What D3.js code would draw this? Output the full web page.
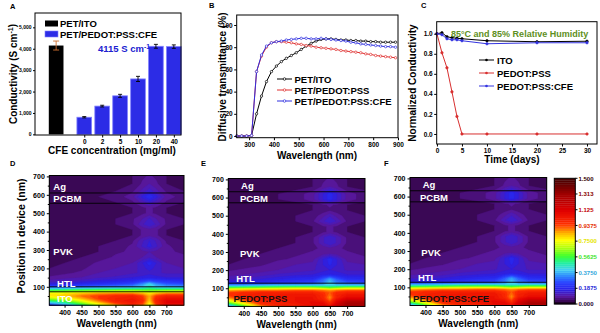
<!DOCTYPE html>
<html>
<head>
<meta charset="utf-8">
<script src="https://cdn.jsdelivr.net/npm/d3@7"></script>
<style>
  body { margin: 0; background: #fff; }
  svg { font-family: "Liberation Sans", Arial, sans-serif; font-weight: bold; }
</style>
</head>
<body>
<svg id="fig" width="600" height="333"></svg>
<script>
// ---- A: conductivity ----
const concLabels = ["0", "2", "5", "10", "20", "40"];
const itoCond = 4150, itoErr = 210;
const cfeCond = [800, 1320, 1800, 2590, 4115, 4100];
const cfeErr = [30, 40, 70, 120, 90, 80];
const condTicks = [0, 1000, 2000, 3000, 4000, 5000];

// ---- B: diffusive transmittance ----
const wavelengthsB = [250, 270, 290, 310, 330, 350, 370, 390, 410, 430, 450, 470, 490, 510, 530, 550,
  570, 590, 610, 630, 650, 670, 690, 710, 730, 750, 770, 790, 810, 830, 850, 870, 890];
const transITO = [0, 0, 0, 0.5, 20, 36, 49, 58, 63, 67, 70, 72.5, 75, 78, 81, 83.5,
  85.5, 87, 87.5, 87.5, 87, 86.5, 86.5, 86, 86, 85.5, 85.5, 85, 85, 84.5, 84.5, 84.5, 84.5];
const transPSS = [0, 0, 0, 0.5, 58, 72, 80, 84, 85, 85, 84.5, 84, 83, 82.5, 81.5, 81,
  80, 79.5, 79, 78.5, 78, 77, 76.5, 76, 75.5, 75, 74, 73.5, 72.5, 72, 71.5, 71, 70.5];
const transCFE = [0, 0, 0, 0.5, 58, 73, 81, 84, 85, 85.5, 86.5, 87, 87.5, 88, 88, 87.5,
  87.5, 88, 87.5, 87, 86.5, 86, 85.5, 84.5, 84, 83, 82.5, 82, 81.5, 81, 80.5, 80.5, 80];
const transTicks = [0, 20, 40, 60, 80, 100];
const wlTicksB = [300, 400, 500, 600, 700, 800, 900];

// ---- C: stability at 85 C / 85 % RH ----
const days = [0, 1, 2, 3, 4, 5, 10, 20, 30];
const normITO = [1.0, 1.01, 0.97, 0.96, 0.955, 0.95, 0.93, 0.92, 0.925];
const normPSS = [1.0, 0.81, 0.66, 0.42, 0.175, 0.0, 0.0, 0.0, 0.0];
const normCFE = [1.0, 0.99, 0.95, 0.94, 0.94, 0.93, 0.90, 0.91, 0.91];
const normTicks = [0, 0.2, 0.4, 0.6, 0.8, 1.0];
const dayTicks = [0, 5, 10, 15, 20, 25, 30];

// ---- D-F: optical field |E|^2 in the device (rows = position, cols = wavelength) ----
const heatWl = [355, 400, 450, 500, 550, 600, 630, 650, 670, 700, 752];
const heatPos = [0, 12, 25, 38, 50, 62, 75, 88, 100, 115, 130, 150, 175, 200, 230, 260, 290,
  320, 350, 380, 410, 440, 470, 500, 530, 560, 590, 620, 660, 700];

const fieldITO = [
  [0.22,0.32,0.50,0.70,0.85,0.95,0.90,0.72,0.92,1.05,1.05],
  [0.35,0.45,0.62,0.80,0.95,1.02,0.95,0.78,0.98,1.10,1.10],
  [0.52,0.60,0.75,0.90,1.00,1.05,0.98,0.82,1.00,1.10,1.10],
  [0.68,0.74,0.85,0.95,1.00,1.02,0.96,0.84,0.98,1.05,1.05],
  [0.78,0.82,0.90,0.95,0.98,1.00,0.94,0.85,0.95,1.00,1.00],
  [0.78,0.80,0.84,0.88,0.90,0.90,0.86,0.80,0.86,0.90,0.90],
  [0.62,0.64,0.66,0.68,0.70,0.70,0.68,0.66,0.68,0.70,0.70],
  [0.42,0.43,0.45,0.47,0.48,0.50,0.50,0.52,0.50,0.50,0.50],
  [0.26,0.27,0.29,0.31,0.33,0.35,0.40,0.46,0.40,0.37,0.35],
  [0.16,0.17,0.19,0.21,0.23,0.26,0.34,0.42,0.34,0.28,0.26],
  [0.11,0.12,0.14,0.16,0.18,0.20,0.24,0.27,0.24,0.22,0.20],
  [0.08,0.09,0.10,0.12,0.13,0.15,0.16,0.17,0.16,0.15,0.15],
  [0.06,0.07,0.08,0.10,0.11,0.12,0.13,0.14,0.13,0.12,0.12],
  [0.05,0.06,0.07,0.09,0.10,0.11,0.14,0.16,0.14,0.11,0.10],
  [0.04,0.05,0.06,0.08,0.09,0.10,0.15,0.19,0.15,0.10,0.09],
  [0.04,0.04,0.05,0.06,0.08,0.09,0.10,0.12,0.10,0.09,0.08],
  [0.04,0.04,0.04,0.05,0.07,0.08,0.09,0.10,0.09,0.08,0.07],
  [0.04,0.04,0.04,0.05,0.06,0.08,0.13,0.16,0.13,0.08,0.06],
  [0.04,0.04,0.04,0.04,0.05,0.07,0.12,0.15,0.12,0.07,0.05],
  [0.04,0.04,0.04,0.04,0.04,0.05,0.08,0.09,0.08,0.05,0.04],
  [0.04,0.04,0.04,0.04,0.04,0.05,0.08,0.09,0.08,0.05,0.04],
  [0.04,0.04,0.04,0.04,0.05,0.07,0.12,0.15,0.12,0.07,0.05],
  [0.04,0.04,0.04,0.04,0.05,0.07,0.10,0.13,0.10,0.07,0.05],
  [0.04,0.04,0.04,0.04,0.04,0.05,0.07,0.08,0.07,0.05,0.04],
  [0.04,0.04,0.04,0.04,0.04,0.05,0.07,0.08,0.07,0.05,0.04],
  [0.04,0.04,0.04,0.04,0.05,0.07,0.11,0.14,0.11,0.07,0.05],
  [0.04,0.04,0.04,0.05,0.06,0.09,0.16,0.20,0.16,0.09,0.06],
  [0.04,0.04,0.04,0.04,0.05,0.07,0.11,0.14,0.11,0.07,0.05],
  [0.04,0.04,0.04,0.04,0.04,0.05,0.08,0.10,0.08,0.05,0.04],
  [0.04,0.04,0.04,0.04,0.04,0.05,0.07,0.08,0.07,0.05,0.04]
];
const fieldPSS = [
  [0.30,0.55,0.85,0.95,1.00,1.05,1.10,1.05,1.15,1.25,1.25],
  [0.45,0.70,0.95,1.00,1.02,1.08,1.10,1.00,1.15,1.30,1.30],
  [0.65,0.85,1.00,1.02,1.05,1.08,1.05,0.95,1.10,1.25,1.25],
  [0.80,0.95,1.02,1.04,1.05,1.05,1.00,0.90,1.05,1.15,1.15],
  [0.90,1.00,1.03,1.04,1.05,1.05,0.98,0.88,1.00,1.08,1.08],
  [0.95,1.00,1.02,1.03,1.04,1.04,0.98,0.90,1.00,1.05,1.05],
  [0.95,0.98,1.00,1.00,1.00,1.00,0.96,0.92,0.98,1.00,1.00],
  [0.85,0.88,0.90,0.90,0.92,0.92,0.90,0.88,0.90,0.92,0.92],
  [0.62,0.64,0.66,0.68,0.70,0.70,0.66,0.62,0.66,0.70,0.70],
  [0.35,0.36,0.38,0.40,0.40,0.40,0.40,0.42,0.40,0.40,0.40],
  [0.18,0.19,0.20,0.22,0.24,0.26,0.32,0.40,0.32,0.28,0.26],
  [0.12,0.13,0.15,0.17,0.19,0.20,0.28,0.36,0.28,0.21,0.20],
  [0.09,0.10,0.11,0.13,0.14,0.15,0.17,0.18,0.17,0.15,0.15],
  [0.07,0.08,0.09,0.10,0.11,0.12,0.14,0.15,0.14,0.12,0.12],
  [0.05,0.06,0.07,0.09,0.10,0.11,0.15,0.18,0.15,0.11,0.10],
  [0.04,0.05,0.06,0.07,0.08,0.09,0.15,0.19,0.15,0.09,0.08],
  [0.04,0.04,0.05,0.06,0.07,0.08,0.09,0.10,0.09,0.08,0.07],
  [0.04,0.04,0.04,0.05,0.06,0.07,0.08,0.09,0.08,0.07,0.06],
  [0.04,0.04,0.04,0.04,0.05,0.07,0.12,0.15,0.12,0.07,0.05],
  [0.04,0.04,0.04,0.04,0.05,0.07,0.12,0.15,0.12,0.07,0.05],
  [0.04,0.04,0.04,0.04,0.04,0.05,0.07,0.08,0.07,0.05,0.04],
  [0.04,0.04,0.04,0.04,0.04,0.05,0.07,0.08,0.07,0.05,0.04],
  [0.04,0.04,0.04,0.04,0.05,0.07,0.12,0.15,0.12,0.07,0.05],
  [0.04,0.04,0.04,0.04,0.05,0.06,0.09,0.12,0.09,0.06,0.05],
  [0.04,0.04,0.04,0.04,0.04,0.05,0.06,0.07,0.06,0.05,0.04],
  [0.04,0.04,0.04,0.04,0.04,0.05,0.07,0.08,0.07,0.05,0.04],
  [0.04,0.04,0.04,0.05,0.06,0.09,0.15,0.19,0.15,0.09,0.06],
  [0.04,0.04,0.04,0.05,0.06,0.09,0.15,0.19,0.15,0.09,0.06],
  [0.04,0.04,0.04,0.04,0.04,0.05,0.08,0.10,0.08,0.05,0.04],
  [0.04,0.04,0.04,0.04,0.04,0.05,0.07,0.08,0.07,0.05,0.04]
];
const fieldCFE = [
  [0.30,0.55,0.85,0.95,1.00,1.05,1.10,1.05,1.15,1.25,1.25],
  [0.45,0.70,0.95,1.00,1.02,1.08,1.10,1.00,1.15,1.28,1.28],
  [0.65,0.85,1.00,1.02,1.05,1.08,1.05,0.95,1.10,1.22,1.22],
  [0.80,0.95,1.02,1.04,1.05,1.05,1.00,0.90,1.05,1.12,1.12],
  [0.90,1.00,1.03,1.04,1.05,1.05,0.98,0.88,1.00,1.06,1.06],
  [0.95,1.00,1.02,1.03,1.04,1.04,0.98,0.90,1.00,1.04,1.04],
  [0.95,0.98,1.00,1.00,1.00,1.00,0.96,0.92,0.98,1.00,1.00],
  [0.85,0.88,0.90,0.90,0.92,0.92,0.90,0.88,0.90,0.92,0.92],
  [0.62,0.64,0.66,0.68,0.70,0.70,0.66,0.62,0.66,0.70,0.70],
  [0.35,0.36,0.38,0.40,0.40,0.40,0.40,0.42,0.40,0.40,0.40],
  [0.18,0.19,0.20,0.22,0.24,0.26,0.32,0.40,0.32,0.28,0.26],
  [0.12,0.13,0.15,0.17,0.19,0.20,0.28,0.36,0.28,0.21,0.20],
  [0.09,0.10,0.11,0.13,0.14,0.15,0.17,0.18,0.17,0.15,0.15],
  [0.07,0.08,0.09,0.10,0.11,0.12,0.14,0.15,0.14,0.12,0.12],
  [0.05,0.06,0.07,0.09,0.10,0.11,0.15,0.18,0.15,0.11,0.10],
  [0.04,0.05,0.06,0.07,0.08,0.09,0.15,0.19,0.15,0.09,0.08],
  [0.04,0.04,0.05,0.06,0.07,0.08,0.09,0.10,0.09,0.08,0.07],
  [0.04,0.04,0.04,0.05,0.06,0.07,0.08,0.09,0.08,0.07,0.06],
  [0.04,0.04,0.04,0.04,0.05,0.07,0.12,0.15,0.12,0.07,0.05],
  [0.04,0.04,0.04,0.04,0.05,0.07,0.12,0.15,0.12,0.07,0.05],
  [0.04,0.04,0.04,0.04,0.04,0.05,0.07,0.08,0.07,0.05,0.04],
  [0.04,0.04,0.04,0.04,0.04,0.05,0.07,0.08,0.07,0.05,0.04],
  [0.04,0.04,0.04,0.04,0.05,0.07,0.12,0.15,0.12,0.07,0.05],
  [0.04,0.04,0.04,0.04,0.05,0.06,0.09,0.12,0.09,0.06,0.05],
  [0.04,0.04,0.04,0.04,0.04,0.05,0.06,0.07,0.06,0.05,0.04],
  [0.04,0.04,0.04,0.04,0.04,0.05,0.07,0.08,0.07,0.05,0.04],
  [0.04,0.04,0.04,0.05,0.06,0.09,0.15,0.19,0.15,0.09,0.06],
  [0.04,0.04,0.04,0.05,0.06,0.09,0.15,0.19,0.15,0.09,0.06],
  [0.04,0.04,0.04,0.04,0.04,0.05,0.08,0.10,0.08,0.05,0.04],
  [0.04,0.04,0.04,0.04,0.04,0.05,0.07,0.08,0.07,0.05,0.04]
];
const colorbarTicks = ["0.000", "0.1875", "0.3750", "0.5625", "0.7500", "0.9375", "1.125", "1.313", "1.500"];

const heatStops  = [0, 0.03, 0.08, 0.16, 0.24, 0.32, 0.40, 0.48, 0.56, 0.66, 0.75, 0.84, 0.94, 1.10, 1.30, 1.50];
const heatColors = ["#1b0020", "#400a60", "#5a18a0", "#2a20e6", "#2a40ff", "#3088ff", "#40d0f0", "#20f0a0",
  "#40ff30", "#b0ff10", "#ffff00", "#ffb000", "#ff3000", "#e00000", "#a00000", "#3a0000"];
const heatColor = d3.scaleLinear().domain(heatStops).range(heatColors).clamp(true);
const heatLevels = d3.range(0, 1.5, 0.025);

const svg = d3.select("#fig");

function frame(x0, y0, x1, y1) {
  svg.append("rect").attr("x", x0).attr("y", y0).attr("width", x1 - x0).attr("height", y1 - y0)
    .attr("fill", "none").attr("stroke", "#000").attr("stroke-width", 1);
}

function tidy(g, size) {
  g.select(".domain").remove();
  g.selectAll("line").attr("stroke", "#000");
  g.selectAll("text").attr("font-size", size).attr("font-weight", "bold").attr("fill", "#000");
}

function panelLetter(t, x, y) {
  svg.append("text").attr("x", x).attr("y", y).attr("font-size", 7.5).text(t);
}

function unitText(sel, pre, sup, post) {
  sel.append("tspan").text(pre);
  sel.append("tspan").text(sup).attr("font-size", "0.7em").attr("dy", "-0.45em");
  sel.append("tspan").text(post).attr("dy", "0.3em");
}

// ================= A =================
{
  const x = d3.scaleLinear().domain([-2.75, 5.4]).range([35, 181]);
  const y = d3.scaleLinear().domain([-30, 5670]).range([135, 13]);
  const half = 0.41;
  const itoX = -1.57;

  svg.append("rect").attr("x", x(itoX - half)).attr("y", y(itoCond))
    .attr("width", x(itoX + half) - x(itoX - half)).attr("height", y(0) - y(itoCond)).attr("fill", "#000");
  svg.append("g").selectAll("rect").data(cfeCond).join("rect")
    .attr("x", (d, i) => x(i - half)).attr("y", d => y(d))
    .attr("width", x(half) - x(-half)).attr("height", d => y(0) - y(d))
    .attr("fill", "#2c2ce6").attr("stroke", "#8080ff").attr("stroke-width", 0.8);

  // error bars
  const eb = (cx, v, e, col, cap) => {
    const g = svg.append("g").attr("stroke", col).attr("stroke-width", 0.9);
    g.append("line").attr("x1", x(cx)).attr("x2", x(cx)).attr("y1", y(v - e)).attr("y2", y(v + e));
    g.append("line").attr("x1", x(cx) - cap).attr("x2", x(cx) + cap).attr("y1", y(v - e)).attr("y2", y(v - e));
    g.append("line").attr("x1", x(cx) - cap).attr("x2", x(cx) + cap).attr("y1", y(v + e)).attr("y2", y(v + e));
  };
  eb(itoX, itoCond, itoErr, "#d07030", 3);
  cfeCond.forEach((v, i) => eb(i, v, cfeErr[i], "#000", 2));

  const ya = svg.append("g").attr("transform", "translate(35,0)")
    .call(d3.axisLeft(y).tickValues(condTicks).tickSize(2).tickPadding(1.5));
  tidy(ya, 5);
  const xa = svg.append("g").attr("transform", "translate(0,135)")
    .call(d3.axisBottom(x).tickValues(d3.range(6)).tickFormat(i => concLabels[i]).tickSize(2.5).tickPadding(2));
  tidy(xa, 6.5);
  frame(35, 13, 181, 135);

  // legend
  svg.append("rect").attr("x", 45).attr("y", 20.5).attr("width", 13).attr("height", 6).attr("fill", "#000");
  svg.append("text").attr("x", 60).attr("y", 27.3).attr("font-size", 9.5).text("PET/ITO");
  svg.append("rect").attr("x", 45).attr("y", 31).attr("width", 13).attr("height", 6)
    .attr("fill", "#2c2ce6").attr("stroke", "#8080ff").attr("stroke-width", 0.6);
  svg.append("text").attr("x", 60).attr("y", 37.5).attr("font-size", 9.5).text("PET/PEDOT:PSS:CFE");
  unitText(svg.append("text").attr("x", 98).attr("y", 51.5).attr("font-size", 9.5).attr("fill", "#2020d0"),
    cfeCond[4] + " S cm", "-1", "");

  unitText(svg.append("text").attr("transform", "translate(16.5,74) rotate(-90)").attr("text-anchor", "middle")
    .attr("font-size", 10), "Conductivity (S cm", "-1", ")");
  svg.append("text").attr("x", 112).attr("y", 153.5).attr("text-anchor", "middle").attr("font-size", 10)
    .text("CFE concentration (mg/ml)");
  panelLetter("A", 10, 9);
}

// ================= B =================
{
  const x = d3.scaleLinear().domain([250, 900]).range([236.7, 398]);
  const y = d3.scaleLinear().domain([-1.5, 109]).range([137.7, 15]);
  const series = [
    { v: transITO, c: "#000", name: "PET/ITO" },
    { v: transPSS, c: "#e03030", name: "PET/PEDOT:PSS" },
    { v: transCFE, c: "#3030e0", name: "PET/PEDOT:PSS:CFE" }
  ];
  const line = d3.line().x((d, i) => x(wavelengthsB[i])).y(d => y(d));
  series.forEach(s => {
    svg.append("path").datum(s.v).attr("d", line).attr("fill", "none").attr("stroke", s.c).attr("stroke-width", 1);
    svg.append("g").selectAll("circle").data(s.v).join("circle")
      .attr("cx", (d, i) => x(wavelengthsB[i])).attr("cy", d => y(d)).attr("r", 1.2)
      .attr("fill", "#fff").attr("stroke", s.c).attr("stroke-width", 0.7);
  });
  const ya = svg.append("g").attr("transform", "translate(236.7,0)")
    .call(d3.axisLeft(y).tickValues(transTicks).tickSize(2.5).tickPadding(1.5));
  tidy(ya, 6.5);
  const xa = svg.append("g").attr("transform", "translate(0,137.7)")
    .call(d3.axisBottom(x).tickValues(wlTicksB).tickSize(2.5).tickPadding(2));
  tidy(xa, 6.5);
  frame(236.7, 15, 398, 137.7);

  series.forEach((s, i) => {
    const ly = 79 + i * 11;
    svg.append("line").attr("x1", 277).attr("x2", 292).attr("y1", ly).attr("y2", ly).attr("stroke", s.c);
    svg.append("circle").attr("cx", 284.5).attr("cy", ly).attr("r", 1.3).attr("fill", "#fff").attr("stroke", s.c).attr("stroke-width", 0.7);
    svg.append("text").attr("x", 294.5).attr("y", ly + 3.5).attr("font-size", 9.5).text(s.name);
  });

  svg.append("text").attr("transform", "translate(226,77) rotate(-90)").attr("text-anchor", "middle")
    .attr("font-size", 10).text("Diffusive transmittance (%)");
  svg.append("text").attr("x", 317).attr("y", 159).attr("text-anchor", "middle").attr("font-size", 10)
    .text("Wavelength (nm)");
  panelLetter("B", 209, 8);
}

// ================= C =================
{
  const x = d3.scaleLinear().domain([-0.05, 32]).range([436.7, 597]);
  const y = d3.scaleLinear().domain([-0.1, 1.12]).range([144, 21.7]);
  const series = [
    { v: normITO, c: "#000", name: "ITO" },
    { v: normPSS, c: "#d83030", name: "PEDOT:PSS" },
    { v: normCFE, c: "#3434e0", name: "PEDOT:PSS:CFE" }
  ];
  const line = d3.line().x((d, i) => x(days[i])).y(d => y(d));
  series.forEach(s => {
    svg.append("path").datum(s.v).attr("d", line).attr("fill", "none").attr("stroke", s.c).attr("stroke-width", 1);
    svg.append("g").selectAll("circle").data(s.v).join("circle")
      .attr("cx", (d, i) => x(days[i])).attr("cy", d => y(d)).attr("r", 1.3)
      .attr("fill", s.c).attr("stroke", s.c).attr("stroke-width", 0.5);
  });
  const ya = svg.append("g").attr("transform", "translate(436.7,0)")
    .call(d3.axisLeft(y).tickValues(normTicks).tickFormat(d3.format(".1f")).tickSize(2.5).tickPadding(1.5));
  tidy(ya, 6.5);
  const xa = svg.append("g").attr("transform", "translate(0,144)")
    .call(d3.axisBottom(x).tickValues(dayTicks).tickSize(2.5).tickPadding(2));
  tidy(xa, 6.5);
  frame(436.7, 21.7, 597, 144);

  svg.append("text").attr("x", 451).attr("y", 36.5).attr("font-size", 9).attr("fill", "#5e8f22")
    .text("85°C and 85% Relative Humidity");
  series.forEach((s, i) => {
    const ly = 60 + i * 13;
    svg.append("line").attr("x1", 479).attr("x2", 494).attr("y1", ly).attr("y2", ly).attr("stroke", s.c);
    svg.append("circle").attr("cx", 486.5).attr("cy", ly).attr("r", 1.3).attr("fill", s.c);
    svg.append("text").attr("x", 497).attr("y", ly + 3.5).attr("font-size", 9.5).text(s.name);
  });
  svg.append("text").attr("transform", "translate(416,83) rotate(-90)").attr("text-anchor", "middle")
    .attr("font-size", 10).text("Normalized Conductivity");
  svg.append("text").attr("x", 512).attr("y", 163).attr("text-anchor", "middle").attr("font-size", 10)
    .text("Time (days)");
  panelLetter("C", 421, 8);
}

// ================= D-F =================
function heatPanel(cfg) {
  const { x0, x1, y0, y1, field, lines, labels, id } = cfg;
  const x = d3.scaleLinear().domain([355, 752]).range([x0, x1]);
  const y = d3.scaleLinear().domain([0, 705]).range([y1, y0]);
  const nx = heatWl.length, ny = heatPos.length;
  const ix = d3.scaleLinear().domain(d3.range(nx).map(i => i + 0.5)).range(heatWl);
  const iy = d3.scaleLinear().domain(d3.range(ny).map(j => j + 0.5)).range(heatPos);
  const proj = d3.geoTransform({ point(px, py) { this.stream.point(x(ix(px)), y(iy(py))); } });
  const path = d3.geoPath(proj);
  const contours = d3.contours().size([nx, ny]).thresholds(heatLevels)(field.flat());

  svg.append("clipPath").attr("id", id).append("rect")
    .attr("x", x0).attr("y", y0).attr("width", x1 - x0).attr("height", y1 - y0);
  svg.append("g").attr("clip-path", `url(#${id})`)
    .selectAll("path").data(contours).join("path")
    .attr("d", path).attr("fill", d => heatColor(d.value)).attr("stroke", d => heatColor(d.value)).attr("stroke-width", 0.3);

  lines.forEach(p => svg.append("line").attr("x1", x0).attr("x2", x1).attr("y1", y(p)).attr("y2", y(p))
    .attr("stroke", "#000").attr("stroke-width", 0.9));
  labels.forEach(l => svg.append("text").attr("x", x(l.w)).attr("y", y(l.p)).attr("font-size", 9.5)
    .attr("fill", l.c || "#fff").text(l.t));

  const ya = svg.append("g").attr("transform", `translate(${x0},0)`)
    .call(d3.axisLeft(y).tickValues(d3.range(100, 701, 100)).tickSize(2.5).tickPadding(2));
  tidy(ya, 7);
  const ym = svg.append("g").attr("transform", `translate(${x0},0)`)
    .call(d3.axisLeft(y).tickValues(d3.range(50, 701, 100)).tickSize(1.5).tickFormat(""));
  tidy(ym, 7);
  const xa = svg.append("g").attr("transform", `translate(0,${y1})`)
    .call(d3.axisBottom(x).tickValues(d3.range(400, 701, 50)).tickSize(2.5).tickPadding(2));
  tidy(xa, 7);
  frame(x0, y0, x1, y1);
  svg.append("text").attr("x", (x0 + x1) / 2).attr("y", y1 + 21.5).attr("text-anchor", "middle")
    .attr("font-size", 10).text("Wavelength (nm)");
}

heatPanel({
  id: "clipD", x0: 49.3, x1: 184, y0: 175.5, y1: 305.2, field: fieldITO,
  lines: [610, 554, 100, 73],
  labels: [{ t: "Ag", w: 367, p: 625 }, { t: "PCBM", w: 367, p: 560 }, { t: "PVK", w: 367, p: 275 },
           { t: "HTL", w: 378, p: 100 }, { t: "ITO", w: 378, p: 18 }]
});
heatPanel({
  id: "clipE", x0: 228.3, x1: 365, y0: 178.5, y1: 306.4, field: fieldPSS,
  lines: [632, 571, 128],
  labels: [{ t: "Ag", w: 392, p: 645 }, { t: "PCBM", w: 389, p: 578 }, { t: "PVK", w: 389, p: 275 },
           { t: "HTL", w: 378, p: 133 }, { t: "PEDOT:PSS", w: 370, p: 22, c: "#111" }]
});
heatPanel({
  id: "clipF", x0: 410, x1: 546.7, y0: 177.5, y1: 305.5, field: fieldCFE,
  lines: [632, 571, 128],
  labels: [{ t: "Ag", w: 392, p: 645 }, { t: "PCBM", w: 384, p: 578 }, { t: "PVK", w: 388, p: 275 },
           { t: "HTL", w: 378, p: 133 }, { t: "PEDOT:PSS:CFE", w: 364, p: 22, c: "#111" }]
});

svg.append("text").attr("transform", "translate(25,236) rotate(-90)").attr("text-anchor", "middle")
  .attr("font-size", 10.5).text("Position in device (nm)");
panelLetter("D", 10, 166);
panelLetter("E", 201, 166);
panelLetter("F", 384, 166);

// colour bar
{
  const y = d3.scaleLinear().domain([0, 1.5]).range([304, 178.3]);
  svg.append("g").selectAll("rect").data(heatLevels).join("rect")
    .attr("x", 554.3).attr("width", 21)
    .attr("y", d => y(Math.min(d + 0.025, 1.5))).attr("height", d => y(d) - y(Math.min(d + 0.025, 1.5)) + 0.3)
    .attr("fill", d => heatColor(d));
  frame(554.3, 178.3, 575.3, 304);
  const g = svg.append("g");
  colorbarTicks.forEach(t => {
    const v = +t;
    g.append("line").attr("x1", 575.3).attr("x2", 577.5).attr("y1", y(v)).attr("y2", y(v)).attr("stroke", "#000");
    g.append("text").attr("x", 578.5).attr("y", y(v) + 2.2).attr("font-size", 6)
      .attr("fill", d3.color(heatColor(Math.max(v, 0.01))).darker(0.3)).text(t);
  });
}
</script>
</body>
</html>
